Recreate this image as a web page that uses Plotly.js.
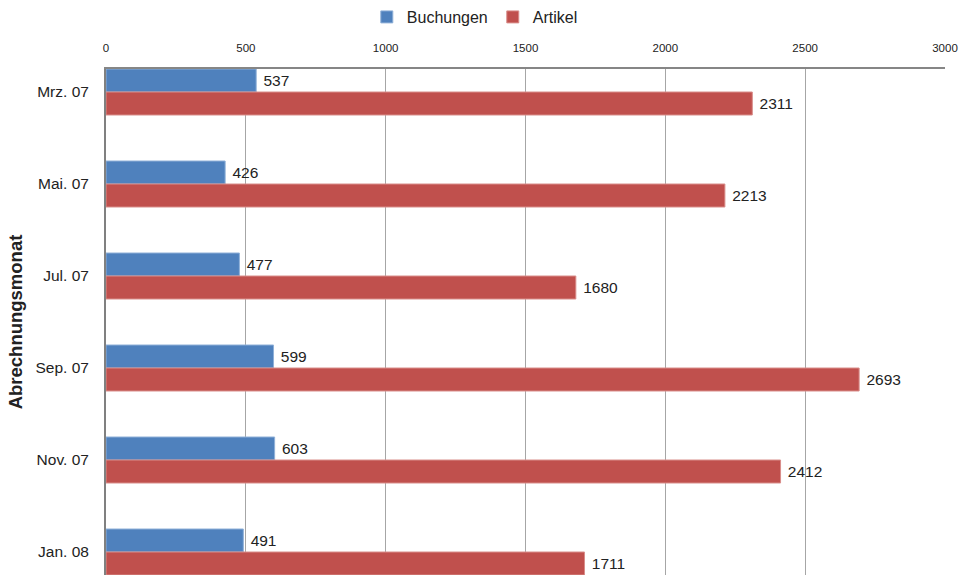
<!DOCTYPE html>
<html>
<head>
<meta charset="utf-8">
<script src="https://cdn.plot.ly/plotly-3.0.1.min.js"></script>
<style>html,body{margin:0;padding:0;background:#fff;}#chart{width:969px;height:575px;}</style>
</head>
<body>
<div id="chart"></div>
<script>
const categories = ["Mrz. 07", "Mai. 07", "Jul. 07", "Sep. 07", "Nov. 07", "Jan. 08"];
const buchungen = [537, 426, 477, 599, 603, 491];
const artikel = [2311, 2213, 1680, 2693, 2412, 1711];
const seriesNames = ["Buchungen", "Artikel"];
const xTicks = [0, 500, 1000, 1500, 2000, 2500, 3000];

const font = "Liberation Sans, Arial, sans-serif";
const pad = "\u00A0";
const traces = [
  {
    type: "bar", orientation: "h", name: seriesNames[0],
    y: categories, x: buchungen,
    text: buchungen.map(v => pad + v), textposition: "outside", cliponaxis: false,
    textfont: {family: font, size: 15.5, color: "#222"},
    marker: {color: "#4F81BD", line: {color: "#8fb0d8", width: 1}}
  },
  {
    type: "bar", orientation: "h", name: seriesNames[1],
    y: categories, x: artikel,
    text: artikel.map(v => pad + v), textposition: "outside", cliponaxis: false,
    textfont: {family: font, size: 15.5, color: "#222"},
    marker: {color: "#C0504D", line: {color: "#d98e8b", width: 1}}
  }
];

const layout = {
  width: 969, height: 575,
  margin: {l: 106, r: 24, t: 69, b: 0, pad: 0},
  paper_bgcolor: "#fff", plot_bgcolor: "#fff",
  font: {family: font, color: "#222"},
  barmode: "group", bargap: 0.5, bargroupgap: 0,
  showlegend: true,
  legend: {
    orientation: "h", xref: "container", yref: "container",
    x: 0.49, xanchor: "center", y: 1, yanchor: "top",
    font: {family: font, size: 16, color: "#222"},
    itemwidth: 30, tracegroupgap: 0
  },
  xaxis: {
    side: "top", range: [0, 3000],
    tickvals: xTicks, ticktext: xTicks.map(String),
    tickfont: {family: font, size: 11.5, color: "#222"},
    ticks: "outside", ticklen: 0, ticklabelstandoff: 10,
    showgrid: true, gridcolor: "#a6a6a6", gridwidth: 1,
    showline: true, linecolor: "#868686", linewidth: 2,
    zeroline: false, fixedrange: true
  },
  yaxis: {
    type: "category", range: [5.25, -0.25],
    tickfont: {family: font, size: 15.5, color: "#222"},
    ticks: "outside", ticklen: 0, ticklabelstandoff: 12,
    showline: true, linecolor: "#808080", linewidth: 2,
    showgrid: false, zeroline: false,
    title: {text: "Abrechnungsmonat", font: {family: font, size: 18.5, color: "#222", weight: "bold"}, standoff: 8},
    fixedrange: true
  }
};

Plotly.newPlot("chart", traces, layout, {displayModeBar: false, staticPlot: true});
</script>
</body>
</html>
